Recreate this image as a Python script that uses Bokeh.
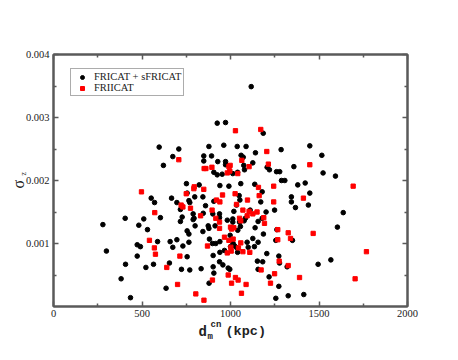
from bokeh.plotting import figure
from bokeh.models import (FixedTicker, PrintfTickFormatter, CustomJSTickFormatter,
                          LinearAxis, Legend, LegendItem, Range1d)
from bokeh.core.properties import value
from bokeh.embed import file_html
from bokeh.resources import INLINE
import math

x_ticks = [0, 500, 1000, 1500, 2000]
x_minor = [250, 750, 1250, 1750]
y_ticks = [0.001, 0.002, 0.003, 0.004]
y_minor = [0.0005, 0.0015, 0.0025, 0.0035]

fr1_x = [1117, 925, 972, 1185, 597, 708, 674, 621, 878, 962, 1038, 1088,
         849, 849, 893, 928, 972, 972, 906, 925, 953, 1013, 1040,
         1060, 1072, 1075, 1079, 1126, 1141,
         1286, 1207, 1220, 1260, 1278, 1288, 1307,
         1358, 1448, 1516, 1523, 1593, 1422, 1380, 1344, 1344, 1367, 1448, 1440, 1637, 1604, 1350, 1495, 1567,
         751, 823, 844, 798, 755, 765, 770, 667, 697, 717, 727, 717,
         789, 794, 789, 800, 755, 765, 765, 755, 770, 723, 731, 697, 659, 674, 655, 636,
         940, 991, 906, 859, 846, 900, 938, 938, 982, 1013, 1013, 1019, 874, 878, 844, 913,
         881, 898, 917, 940, 998, 1005, 1015, 1024, 1036, 1040, 1000, 966, 940, 938, 957, 987, 996, 902, 902, 906, 879, 834,
         1058, 1049, 1053, 1034, 1051, 1041, 1056, 1077, 1084, 1094, 1100, 1135, 1126, 1156, 1111, 1137, 1179, 1171, 1201,
         1179, 1139, 1156, 1186, 1205, 1152, 1182, 1156, 1218, 1273, 1273, 1277, 1262, 1249, 1256, 1256, 1326, 1414, 1320,
         279, 299, 405, 407, 382, 435, 473, 491, 473, 482, 510, 531, 522, 552, 571, 604, 588, 565]
fr1_y = [0.00349, 0.00291, 0.00292, 0.00275, 0.00253, 0.00250, 0.00238, 0.00224, 0.00254, 0.00256, 0.00254, 0.00254,
         0.00239, 0.00231, 0.00239, 0.00230, 0.00230, 0.00225, 0.00213, 0.00209, 0.00210, 0.00211, 0.00213,
         0.00240, 0.00237, 0.00224, 0.00217, 0.00228, 0.00244,
         0.00249, 0.00221, 0.00217, 0.00214, 0.00214, 0.00200, 0.00200,
         0.00222, 0.00255, 0.00240, 0.00212, 0.00207, 0.00196, 0.00193, 0.00174, 0.00166, 0.00157, 0.00180, 0.00161, 0.00149, 0.00126, 0.00105, 0.00067, 0.00074,
         0.00195, 0.00193, 0.00174, 0.00174, 0.00180, 0.00168, 0.00165, 0.00172, 0.00165, 0.00154, 0.00142, 0.00135,
         0.00147, 0.00140, 0.00138, 0.00128, 0.00120, 0.00115, 0.00102, 0.00079, 0.00058, 0.00059, 0.00096, 0.00106, 0.00103, 0.00094, 0.00069, 0.00029,
         0.00192, 0.00191, 0.00167, 0.00160, 0.00148, 0.00147, 0.00147, 0.00141, 0.00137, 0.00139, 0.00134, 0.00151, 0.00128, 0.00124, 0.00119, 0.00128,
         0.00107, 0.00100, 0.00100, 0.00103, 0.00113, 0.00104, 0.00100, 0.00096, 0.00093, 0.00086, 0.00095, 0.00089, 0.00086, 0.00071, 0.00066, 0.00061, 0.00059, 0.00081, 0.00063, 0.00053, 0.00037, 0.00060,
         0.00195, 0.00176, 0.00169, 0.00161, 0.00134, 0.00121, 0.00127, 0.00136, 0.00140, 0.00102, 0.00094, 0.00095, 0.00108, 0.00102, 0.00153, 0.00194, 0.00182, 0.00166, 0.00150,
         0.00140, 0.00125, 0.00135, 0.00115, 0.00084, 0.00072, 0.00071, 0.00059, 0.00047, 0.00032, 0.00080, 0.00069, 0.00122, 0.00153, 0.00105, 0.00013, 0.00017, 0.00019, 0.00063,
         0.00130, 0.00088, 0.00140, 0.00067, 0.00044, 0.00014, 0.00098, 0.00095, 0.00080, 0.00129, 0.00139, 0.00122, 0.00062, 0.00172, 0.00165, 0.00141, 0.00103, 0.00067]

fr2_x = [708, 497, 572, 542, 570, 576, 640, 701, 714, 750, 721, 731, 774, 795, 793, 851, 861, 849, 831, 870,
         804, 850, 898, 895, 896, 921, 940, 955, 917, 938, 938, 982, 996, 998, 991, 1028, 1026, 1034, 1041,
         1064, 1105, 1171, 1205, 1214, 1158, 1162, 1244, 1244, 1188, 1150, 1105, 1096, 1126, 1070, 1094, 1051,
         1019, 1006, 1000, 966, 991, 1015, 1058, 1070, 1004, 982, 1045, 1002, 1109, 1058, 987, 1028, 1043, 1006,
         1088, 1062, 1173, 1226, 1249, 1275, 1326, 1267, 1267, 1326, 1339, 1390, 1412, 1448, 1467, 1693, 1768, 1704, 1192]
fr2_y = [0.00233, 0.00182, 0.00149, 0.00105, 0.00093, 0.00083, 0.00062, 0.00035, 0.00080, 0.00179, 0.00161, 0.00158, 0.00156, 0.00190, 0.00187, 0.00219, 0.00219, 0.00186, 0.00144, 0.00096,
         0.00020, 0.00010, 0.00042, 0.00221, 0.00153, 0.00169, 0.00166, 0.00177, 0.00140, 0.00134, 0.00124, 0.00212, 0.00215, 0.00224, 0.00222, 0.00279, 0.00179, 0.00162, 0.00211,
         0.00232, 0.00222, 0.00281, 0.00246, 0.00226, 0.00189, 0.00176, 0.00191, 0.00166, 0.00141, 0.00150, 0.00151, 0.00169, 0.00147, 0.00153, 0.00144, 0.00140,
         0.00125, 0.00123, 0.00126, 0.00110, 0.00105, 0.00107, 0.00136, 0.00087, 0.00088, 0.00085, 0.00093, 0.00094, 0.00086, 0.00101, 0.00050, 0.00046, 0.00042, 0.00037,
         0.00035, 0.00021, 0.00058, 0.00037, 0.00052, 0.00072, 0.00065, 0.00122, 0.00106, 0.00117, 0.00108, 0.00046, 0.00172, 0.00225, 0.00116, 0.00191, 0.00087, 0.00044, 0.00132]

FRAME = "#5a5a5a"
TXT = "#222222"
SERIF = "Liberation Serif"
MONO = "Liberation Mono"

p = figure(frame_width=354, frame_height=252, output_backend="svg", toolbar_location=None,
           x_range=Range1d(0, 2000), y_range=Range1d(0, 0.004),
           min_border_left=53, min_border_right=51, min_border_top=54, min_border_bottom=53,
           background_fill_color="white", border_fill_color="white")
p.grid.visible = False
p.outline_line_color = FRAME
p.outline_line_width = 2

def style_axis(ax, ticks, minor):
    ax.ticker = FixedTicker(ticks=ticks, minor_ticks=minor)
    ax.axis_line_color = FRAME
    ax.axis_line_width = 2
    ax.major_tick_line_color = FRAME
    ax.minor_tick_line_color = FRAME
    ax.major_tick_line_width = 1.5
    ax.minor_tick_line_width = 1.5
    ax.major_tick_in = 5
    ax.major_tick_out = 0
    ax.minor_tick_in = 3
    ax.minor_tick_out = 0
    ax.major_label_text_font = SERIF
    ax.major_label_text_font_size = "10.5px"
    ax.major_label_text_color = TXT

style_axis(p.xaxis[0], x_ticks, x_minor)
style_axis(p.yaxis[0], y_ticks, y_minor)
p.xaxis[0].major_label_standoff = 3
p.yaxis[0].major_label_standoff = 4
p.yaxis[0].formatter = PrintfTickFormatter(format="%.3f")
p.xaxis[0].formatter = PrintfTickFormatter(format="%d")

top = LinearAxis()
right = LinearAxis()
style_axis(top, x_ticks, x_minor)
style_axis(right, y_ticks, y_minor)
for ax in (top, right):
    ax.formatter = CustomJSTickFormatter(code="return ''")
    ax.major_label_standoff = 0
p.add_layout(top, "above")
p.add_layout(right, "right")

r1 = p.scatter(fr1_x, fr1_y, marker="circle", size=4.6, fill_color="black", line_color="black")
r2 = p.scatter(fr2_x, fr2_y, marker="square", size=4.3, fill_color="#ff0000", line_color="#ff0000")

legend = Legend(items=[LegendItem(label="FRICAT + sFRICAT", renderers=[r1]),
                       LegendItem(label="FRIICAT", renderers=[r2])],
                location=(17, 210), orientation="vertical")
legend.label_text_font = SERIF
legend.label_text_font_size = "10.5px"
legend.label_text_color = TXT
legend.label_height = 10
legend.glyph_height = 10
legend.glyph_width = 18
legend.label_standoff = 3
legend.spacing = -2
legend.padding = 2
legend.margin = 0
legend.border_line_color = FRAME
legend.border_line_width = 1.5
legend.background_fill_alpha = 1
p.add_layout(legend, "center")

XS = 2000 / 354.0      # data units per frame pixel (x)
YS = 0.004 / 252.0     # data units per frame pixel (y)

def lab(text, px, py, size, font, bold=True, angle=0.0):
    # text glyph at overlay level is drawn outside the frame (not clipped)
    p.text(x=[px * XS], y=[py * YS], text=[text], level="overlay",
           text_font=value(font), text_font_size=value(size), text_color=TXT,
           text_font_style="bold" if bold else "normal",
           text_baseline="alphabetic", text_align="left", angle=angle)

# x-axis label: d_m^cn (kpc)
lab("d", 145, -25, "14px", MONO)
lab("cn", 157, -18, "9px", MONO)
lab("m", 154, -30, "9px", MONO)
lab("(kpc)", 172, -25, "13.5px", MONO)
# y-axis label: sigma_z
lab("σ", -35, 118, "16px", SERIF, bold=False, angle=math.pi / 2)
lab("z", -30, 131, "8px", SERIF, bold=False, angle=math.pi / 2)

open("out.html", "w").write(file_html(p, INLINE))
